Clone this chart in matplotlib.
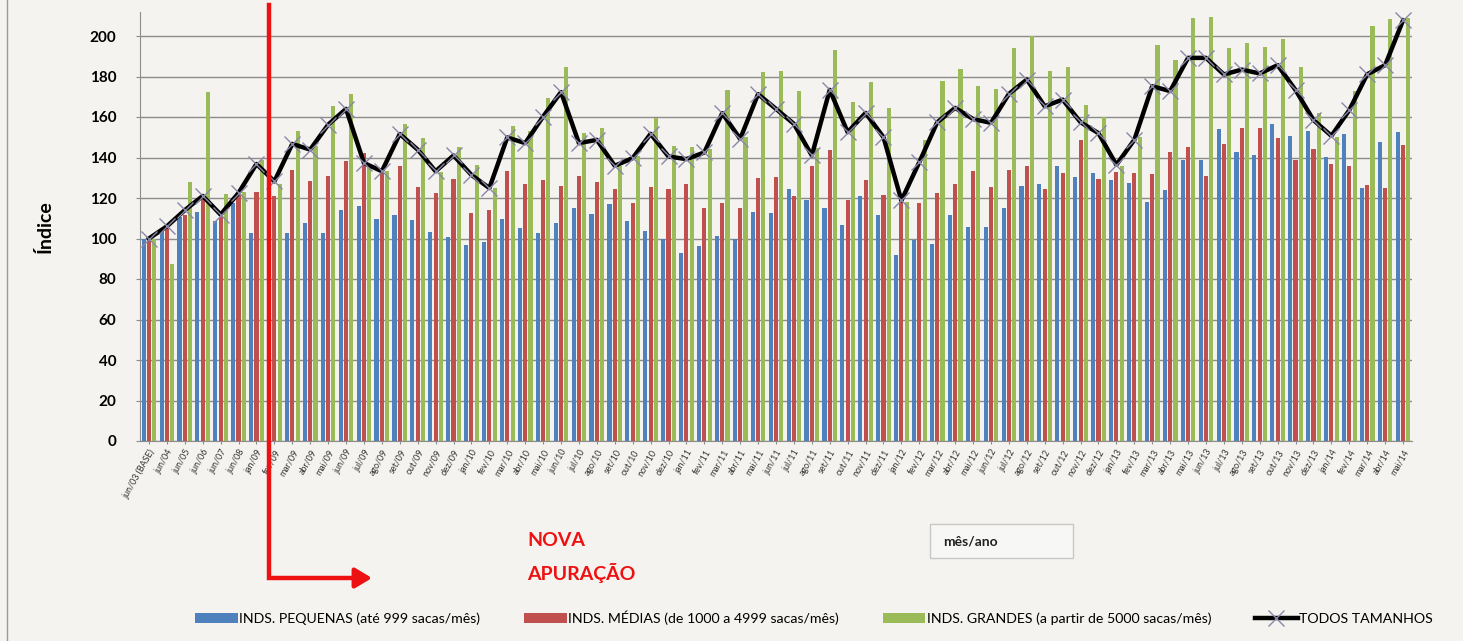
import numpy as np
import matplotlib
matplotlib.use('Agg')
import matplotlib.pyplot as plt
from matplotlib.lines import Line2D
from matplotlib.patches import Rectangle, FancyArrowPatch
from matplotlib.transforms import blended_transform_factory

plt.rcParams['font.family'] = ['Lato', 'DejaVu Sans']

labels = ['jun/03 (BASE)', 'jun/04', 'jun/05', 'jun/06', 'jun/07', 'jun/08',
          'jan/09', 'fev/09', 'mar/09', 'abr/09', 'mai/09', 'jun/09', 'jul/09', 'ago/09', 'set/09', 'out/09', 'nov/09', 'dez/09',
          'jan/10', 'fev/10', 'mar/10', 'abr/10', 'mai/10', 'jun/10', 'jul/10', 'ago/10', 'set/10', 'out/10', 'nov/10', 'dez/10',
          'jan/11', 'fev/11', 'mar/11', 'abr/11', 'mai/11', 'jun/11', 'jul/11', 'ago/11', 'set/11', 'out/11', 'nov/11', 'dez/11',
          'jan/12', 'fev/12', 'mar/12', 'abr/12', 'mai/12', 'jun/12', 'jul/12', 'ago/12', 'set/12', 'out/12', 'nov/12', 'dez/12',
          'jan/13', 'fev/13', 'mar/13', 'abr/13', 'mai/13', 'jun/13', 'jul/13', 'ago/13', 'set/13', 'out/13', 'nov/13', 'dez/13',
          'jan/14', 'fev/14', 'mar/14', 'abr/14', 'mai/14']

pequenas = [100, 103.6, 110.6, 113, 108.8, 117.5,
            102.7, 103, 102.7, 107.7, 102.7, 114.2, 116.2, 109.8, 111.4, 109.3, 103.2, 100.7,
            96.9, 98.5, 109.7, 105.4, 102.6, 107.6, 115.3, 112, 117, 108.7, 103.8, 99.8,
            92.8, 96.5, 101, 99.8, 113, 112.5, 124.2, 118.8, 115, 106.7, 120.9, 111.7,
            91.9, 99.5, 97.4, 111.4, 105.6, 105.6, 115, 125.8, 127, 136, 130.3, 132.5,
            128.7, 127.4, 118, 124.1, 138.9, 138.9, 153.9, 142.5, 141.3, 156.6, 150.7, 153.3,
            140.2, 151.6, 124.9, 147.9, 152.8]

medias = [100, 105, 111.8, 119.7, 110.6, 122,
          123, 121, 134, 128.6, 130.7, 138.1, 142.2, 134.8, 135.6, 125.3, 122.5, 129.5,
          112.5, 114.2, 133.1, 126.8, 128.9, 125.7, 131.1, 127.8, 124.5, 117.4, 125.2, 124.5,
          126.8, 115.3, 117.4, 115.3, 130.1, 130.5, 120.9, 135.6, 143.5, 118.8, 129.1, 121.6,
          118.8, 117.6, 122.6, 127, 133.1, 125.3, 133.6, 135.6, 124.2, 132.4, 148.7, 129.2,
          132.6, 132.3, 131.8, 142.5, 145.4, 130.7, 146.7, 154.4, 154.4, 149.5, 138.9, 144.1,
          136.9, 135.6, 126.2, 124.9, 146.2]

grandes = [100, 87.6, 128, 172.3, 122, 122.8,
           139, 127, 153, 145.5, 165.6, 171.5, 136.5, 133.2, 156.7, 149.6, 133, 145.2,
           136.4, 125, 155.6, 153.3, 169.3, 184.6, 152.3, 154.5, 136, 140.5, 159.4, 145.8,
           145.1, 144, 173.1, 150, 182, 182.7, 172.6, 144.8, 193, 167.3, 177.2, 164.5,
           118, 148.7, 178, 183.5, 175.1, 173.9, 194, 200, 182.5, 184.6, 165.7, 160.2,
           136, 150.3, 195.7, 188, 208.9, 209.3, 194.1, 196.7, 194.6, 198.4, 184.8, 161.8,
           150, 172.8, 204.9, 208.2, 209]

todos = [100, 106, 114, 121, 111.8, 122.5,
         136.8, 128.2, 146.7, 143.9, 156.2, 164, 137.3, 133.2, 151.6, 143.9, 133.2, 141,
         131.4, 124.9, 149.9, 147.1, 160.2, 172.3, 147.1, 148.7, 135.9, 139.7, 151.7, 140.5,
         139.2, 142.5, 161.9, 149.2, 171.3, 164, 156.6, 141, 173.4, 152.5, 162, 150,
         118.8, 137.7, 157.4, 164.5, 159, 157.1, 171.4, 178.5, 165.3, 168.6, 157.4, 152,
         136.4, 148.7, 175.2, 172.8, 189.2, 189.2, 181, 183.4, 181.5, 185.6, 173.3, 158.5,
         150.7, 163.4, 181.1, 185.6, 207.7]

bg = '#f4f3ef'
c_blue = '#4f81bd'
c_red = '#c0504d'
c_green = '#9bbb59'

fig = plt.figure(figsize=(14.63, 6.41), dpi=100, facecolor=bg)
ax = fig.add_axes([140 / 1463, 1 - 441 / 641, 1272 / 1463, 429.3 / 641])
ax.set_facecolor(bg)

x = np.arange(len(labels))
off = 0.296
w = 0.23
b1 = ax.bar(x - off, pequenas, w, color=c_blue, label='INDS. PEQUENAS (até 999 sacas/mês)', zorder=2)
b2 = ax.bar(x, medias, w, color=c_red, label='INDS. MÉDIAS (de 1000 a 4999 sacas/mês)', zorder=2)
b3 = ax.bar(x + off, grandes, w, color=c_green, label='INDS. GRANDES (a partir de 5000 sacas/mês)', zorder=2)
ln, = ax.plot(x, todos, color='black', lw=3.2, marker='x', ms=11, mec='#8a87a6', mew=1,
              label='TODOS TAMANHOS', zorder=4)

ax.set_xlim(-0.5, len(labels) - 0.5)
ax.set_ylim(0, 212)
ax.set_yticks(np.arange(0, 201, 20))
ax.yaxis.grid(True, color='#8c8c8c', lw=1)
ax.set_axisbelow(True)
for s in ['top', 'right']:
    ax.spines[s].set_visible(False)
ax.spines['left'].set_color('#8c8c8c')
ax.spines['bottom'].set_color('#8c8c8c')
ax.tick_params(axis='y', labelsize=11, length=3, color='#8c8c8c', pad=14)
for t in ax.get_yticklabels():
    t.set_fontweight('bold')
ax.set_xticks(x)
ax.set_xticklabels(labels, rotation=60, ha='right', rotation_mode='anchor',
                   fontsize=6.4, color='#333333')
ax.tick_params(axis='x', length=2, color='#8c8c8c', pad=3)
ax.set_ylabel('Índice', fontsize=14, fontweight='bold', labelpad=26)

# marcador da nova apuração
tr = blended_transform_factory(ax.transData, fig.transFigure)
xl = 7 - off
fig.add_artist(Line2D([xl, xl], [1 - 5 / 641, 1 - 578 / 641], transform=tr,
                      color='#ee1111', lw=3.2, zorder=10))
fig.add_artist(FancyArrowPatch((xl, 1 - 578 / 641), (xl + 5.9, 1 - 578 / 641), transform=tr,
                               arrowstyle='-|>,head_length=10,head_width=6', color='#ee1111',
                               lw=3.2, mutation_scale=1, zorder=10))
fig.text(527 / 1463, 1 - 540 / 641, 'NOVA', color='#ee1111', fontsize=14, fontweight='bold', va='center')
fig.text(527 / 1463, 1 - 573 / 641, 'APURAÇÃO', color='#ee1111', fontsize=14, fontweight='bold', va='center')

fig.add_artist(Rectangle((930 / 1463, 1 - 558 / 641), 143 / 1463, 34 / 641, transform=fig.transFigure,
                         facecolor='#f7f7f5', edgecolor='#c8c8c8', lw=1))
fig.text(943 / 1463, 1 - 541 / 641, 'mês/ano', fontsize=10, fontweight='bold', color='#222222', va='center')

fig.add_artist(Line2D([7 / 1463, 7 / 1463], [0, 1], transform=fig.transFigure, color='#9a9a9a', lw=1))

fig.legend([b1, b2, b3, ln], [b1.get_label(), b2.get_label(), b3.get_label(), ln.get_label()],
           loc='center', bbox_to_anchor=(814 / 1463, 1 - 618 / 641), ncol=4, frameon=False,
           fontsize=10.2, handlelength=3.0, handleheight=0.7, handletextpad=0.1,
           columnspacing=3.1)

fig.savefig('out.png', dpi=100, facecolor=bg)
